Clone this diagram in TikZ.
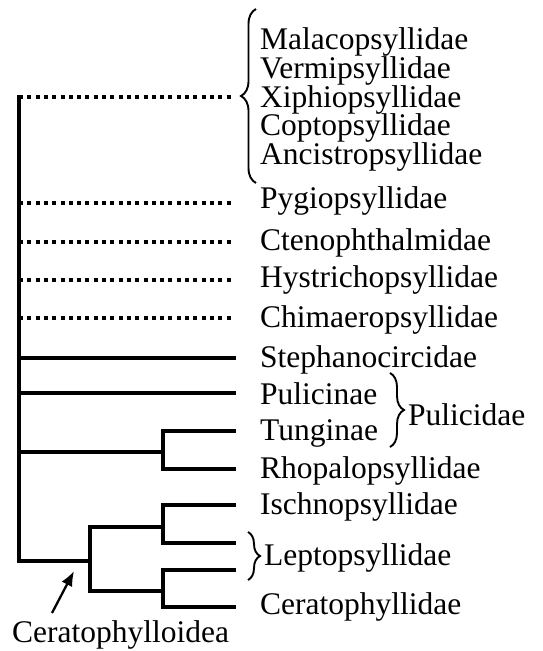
\documentclass[tikz,border=0pt]{standalone}
\usepackage{fontspec}
\setmainfont{Liberation Serif}
\usetikzlibrary{decorations.pathreplacing,arrows.meta}
\begin{document}
\begin{tikzpicture}[x=1pt,y=-1pt,
  lbl/.style={anchor=base west,inner sep=0pt,font=\fontsize{31.5}{36}\selectfont},
  solidline/.style={line width=3.4pt},
  dotline/.style={line width=3.4pt,dash pattern=on 4pt off 4.3pt},
  bracestyle/.style={line width=1.9pt,decorate,decoration={brace,amplitude=#1}}]
\useasboundingbox (0,0) rectangle (542,651);
% labels
\node[lbl] (mal) at (260,49.5) {Malacopsyllidae};
\node[lbl] (ver) at (260,78.3) {Vermipsyllidae};
\node[lbl] (xip) at (260,107.1) {Xiphiopsyllidae};
\node[lbl] (cop) at (260,135.9) {Coptopsyllidae};
\node[lbl] (anc) at (260,164.7) {Ancistropsyllidae};
\node[lbl] (pyg) at (260,208) {Pygiopsyllidae};
\node[lbl] (cte) at (260,250) {Ctenophthalmidae};
\node[lbl] (hys) at (260,287) {Hystrichopsyllidae};
\node[lbl] (chi) at (260,327) {Chimaeropsyllidae};
\node[lbl] (ste) at (260,367) {Stephanocircidae};
\node[lbl] (pul) at (260,404) {Pulicinae};
\node[lbl] (tun) at (260,440) {Tunginae};
\node[lbl] (pulfam) at (408,425) {Pulicidae};
\node[lbl] (rho) at (260,478) {Rhopalopsyllidae};
\node[lbl] (isc) at (260,514) {Ischnopsyllidae};
\node[lbl] (lep) at (264,565) {Leptopsyllidae};
\node[lbl] (cer) at (260,614) {Ceratophyllidae};
\node[lbl] (cerfam) at (12,642) {Ceratophylloidea};
% tree coordinates
\coordinate (top) at (19,97);
\coordinate (root) at (19,561);
\coordinate (r1) at (19,203);
\coordinate (r2) at (19,242);
\coordinate (r3) at (19,280);
\coordinate (r4) at (19,318);
\coordinate (r5) at (19,358);
\coordinate (r6) at (19,393);
\coordinate (r7) at (19,452);
\coordinate (e0) at (234,97);
\coordinate (e1) at (234,203);
\coordinate (e2) at (234,242);
\coordinate (e3) at (234,280);
\coordinate (e4) at (234,318);
\coordinate (e5) at (236,358);
\coordinate (e6) at (236,393);
\coordinate (tunN) at (163,431);
\coordinate (rhoN) at (163,469);
\coordinate (pulM) at (163,452);
\coordinate (e7) at (236,431);
\coordinate (e8) at (236,469);
\coordinate (cM) at (90,561);
\coordinate (cT) at (90,527);
\coordinate (cB) at (90,591);
\coordinate (uM) at (163,527);
\coordinate (uT) at (163,505);
\coordinate (uB) at (163,543);
\coordinate (lM) at (163,591);
\coordinate (lT) at (163,570);
\coordinate (lB) at (163,607);
\coordinate (e9) at (236,505);
\coordinate (e10) at (236,543);
\coordinate (e11) at (236,570);
\coordinate (e12) at (236,607);
% main trunk
\draw[solidline,line cap=rect] (top) -- (root);
\draw[dotline] (top) -- (e0);
\draw[dotline] (r1) -- (e1);
\draw[dotline] (r2) -- (e2);
\draw[dotline] (r3) -- (e3);
\draw[dotline] (r4) -- (e4);
\draw[solidline] (r5) -- (e5);
\draw[solidline] (r6) -- (e6);
\draw[solidline] (r7) -- (pulM);
\draw[solidline] (e7) -- (tunN) -- (rhoN) -- (e8);
\draw[solidline] (root) -- (cM);
\draw[solidline] (uM) -- (cT) -- (cB) -- (lM);
\draw[solidline] (e9) -- (uT) -- (uB) -- (e10);
\draw[solidline] (e11) -- (lT) -- (lB) -- (e12);
% braces
\coordinate (b1a) at (256,183);
\coordinate (b1b) at (256,9);
\draw[bracestyle=15pt] (b1a) -- (b1b);
\coordinate (b2a) at (390,373);
\coordinate (b2b) at (390,447);
\draw[bracestyle=14pt] (b2a) -- (b2b);
\coordinate (b3a) at (248,532);
\coordinate (b3b) at (248,580);
\draw[bracestyle=12pt] (b3a) -- (b3b);
% arrow
\coordinate (arT) at (52,613);
\coordinate (arH) at (74,571);
\draw[line width=2.3pt,-{Latex[length=15pt,width=12pt]}] (arT) -- (arH);
\end{tikzpicture}
\end{document}
